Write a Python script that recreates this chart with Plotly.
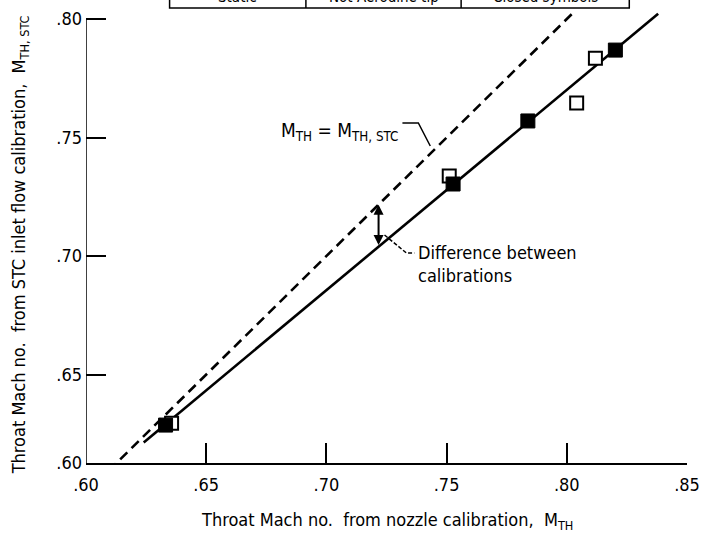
import plotly.graph_objects as go

# ---------------- data ----------------
open_x = [0.6356, 0.7511, 0.8041, 0.8119]
open_y = [0.6295, 0.7338, 0.7646, 0.7835]
filled_x = [0.6331, 0.7527, 0.7838, 0.8202]
filled_y = [0.6287, 0.7304, 0.7570, 0.7869]

fit_x = [0.624, 0.838]
fit_y = [0.6214, 0.8022]

equal_x = [0.60, 0.803]
equal_y = [0.60, 0.803]

x_tick_vals = [0.60, 0.65, 0.70, 0.75, 0.80, 0.85]
x_tick_text = [".60", ".65", ".70", ".75", ".80", ".85"]
# bottom of the scanned y axis is compressed; ".60" sits at the axis corner
Y_BOTTOM = 0.6127
Y_TOP = 0.8055
y_tick_vals = [Y_BOTTOM, 0.65, 0.70, 0.75, 0.80]
y_tick_text = [".60", ".65", ".70", ".75", ".80"]

diff_x = 0.7217
diff_top = 0.7217
diff_bottom = 0.7040

table_cells = ["Static", "Not Aerodine tip", "Closed symbols"]

FONT = "DejaVu Sans Condensed, Liberation Sans Narrow, Roboto Condensed, Arial Narrow, sans-serif"

fig = go.Figure()

fig.add_trace(go.Scatter(x=equal_x, y=equal_y, mode="lines",
                         line=dict(color="black", width=2.6, dash="10px,6px"),
                         showlegend=False, hoverinfo="skip"))
fig.add_trace(go.Scatter(x=fit_x, y=fit_y, mode="lines",
                         line=dict(color="black", width=2.6),
                         showlegend=False, hoverinfo="skip"))
fig.add_trace(go.Scatter(x=open_x, y=open_y, mode="markers",
                         marker=dict(symbol="square", size=13, color="white",
                                     line=dict(color="black", width=2)),
                         showlegend=False, cliponaxis=False))
fig.add_trace(go.Scatter(x=filled_x, y=filled_y, mode="markers",
                         marker=dict(symbol="square", size=14, color="black",
                                     line=dict(color="black", width=1)),
                         showlegend=False, cliponaxis=False))

L, R, T, B = 86, 16, 6, 92
W, H = 706, 555
PW, PH = W - L - R, H - T - B


def px(xp):
    return (xp - L) / PW


def py(yp):
    return (H - B - yp) / PH


shapes = []
# y axis line only up to .80
shapes.append(dict(type="line", xref="x", yref="y", x0=0.60, x1=0.60,
                   y0=Y_BOTTOM, y1=0.80, line=dict(color="black", width=1.5)))
# leader for M_TH = M_TH,STC label
shapes.append(dict(type="path", xref="paper", yref="paper",
                   path=f"M {px(404)} {py(123)} L {px(420)} {py(123)} L {px(432)} {py(146)}",
                   line=dict(color="black", width=1.5)))
# leader for difference label
shapes.append(dict(type="path", xref="paper", yref="paper",
                   path=f"M {px(386)} {py(235)} L {px(408)} {py(253)} L {px(416)} {py(253)}",
                   line=dict(color="black", width=1.5, dash="4px,2px")))
# table at top (cut off)
tl, tr, tb, tt = 170, 632, 8, -20
seps = [307, 463]
shapes.append(dict(type="rect", xref="paper", yref="paper",
                   x0=px(tl), x1=px(tr), y0=py(tb), y1=py(tt),
                   line=dict(color="black", width=1.5)))
for s in seps:
    shapes.append(dict(type="line", xref="paper", yref="paper",
                       x0=px(s), x1=px(s), y0=py(tb), y1=py(tt),
                       line=dict(color="black", width=1.5)))

annotations = []
bounds = [tl] + seps + [tr]
for i, t in enumerate(table_cells):
    annotations.append(dict(xref="paper", yref="paper",
                            x=px((bounds[i] + bounds[i + 1]) / 2), y=py(-3),
                            text=t, showarrow=False, xanchor="center", yanchor="middle",
                            font=dict(family=FONT, size=15, color="black")))

annotations.append(dict(xref="paper", yref="paper", x=px(402), y=py(132),
                        text="M<sub>TH</sub> = M<sub>TH, STC</sub>", showarrow=False,
                        xanchor="right", yanchor="middle",
                        font=dict(family=FONT, size=19, color="black")))
annotations.append(dict(xref="paper", yref="paper", x=px(418), y=py(264),
                        text="Difference between<br>calibrations", showarrow=False,
                        xanchor="left", yanchor="middle", align="left",
                        font=dict(family=FONT, size=18, color="black")))
annotations.append(dict(x=diff_x, y=diff_top, ax=diff_x, ay=diff_bottom,
                        xref="x", yref="y", axref="x", ayref="y", text="",
                        showarrow=True, arrowhead=2, startarrowhead=2,
                        arrowside="end+start", arrowsize=1, arrowwidth=2,
                        arrowcolor="black"))
annotations.append(dict(xref="paper", yref="paper", x=px(388), y=py(521),
                        text="Throat Mach no.  from nozzle calibration,  M<sub>TH</sub>",
                        showarrow=False, xanchor="center", yanchor="middle",
                        font=dict(family=FONT, size=18, color="black")))
annotations.append(dict(xref="paper", yref="paper", x=px(20), y=py(245),
                        text="Throat Mach no.  from STC inlet flow calibration,  M<sub>TH, STC</sub>",
                        showarrow=False, textangle=-90, xanchor="center", yanchor="middle",
                        font=dict(family=FONT, size=18, color="black")))

fig.update_layout(
    width=W, height=H,
    margin=dict(l=L, r=R, t=T, b=B, pad=0),
    paper_bgcolor="white", plot_bgcolor="white",
    showlegend=False,
    shapes=shapes, annotations=annotations,
    xaxis=dict(range=[0.60, 0.85], tickvals=x_tick_vals, ticktext=x_tick_text,
               ticks="inside", ticklen=20, tickwidth=1.5, tickcolor="black",
               showline=True, linecolor="black", linewidth=1.5,
               showgrid=False, zeroline=False, ticklabelstandoff=5,
               tickfont=dict(family=FONT, size=18, color="black")),
    yaxis=dict(range=[Y_BOTTOM, Y_TOP], tickvals=y_tick_vals, ticktext=y_tick_text,
               ticks="inside", ticklen=20, tickwidth=1.5, tickcolor="black",
               showline=False, showgrid=False, zeroline=False, ticklabelstandoff=3,
               tickfont=dict(family=FONT, size=18, color="black")),
)

fig.write_html("out.html")
